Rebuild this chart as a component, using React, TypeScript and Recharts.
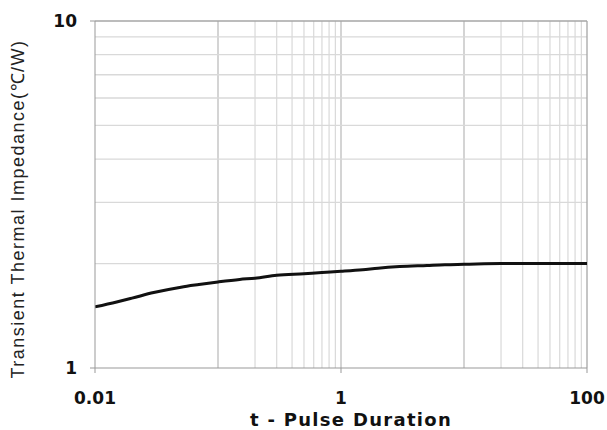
import React from "react";
import {
  LineChart,
  Line,
  XAxis,
  YAxis,
  ReferenceLine,
  Label,
} from "recharts";

// pulse duration t (s) and transient thermal impedance (°C/W)
const pulseTimes = [
  0.01, 0.015, 0.02, 0.03, 0.05, 0.07, 0.1, 0.15, 0.2, 0.3, 0.5, 0.7, 1, 1.5,
  2, 3, 5, 7, 10, 20, 30, 50, 100,
];
const impedance = [
  1.5, 1.55, 1.59, 1.65, 1.71, 1.74, 1.77, 1.8, 1.815, 1.85, 1.87, 1.885, 1.9,
  1.92, 1.94, 1.96, 1.975, 1.985, 1.99, 2.0, 2.0, 2.0, 2.0,
];

const xTicks = [0.01, 1, 100];
const yTicks = [1, 10];

// grid as drawn in the original (minor lines only in some decades)
const xGridMajor = [0.1, 1, 10];
const xGridMinor = [
  0.2, 0.3, 0.4, 0.5, 0.6, 0.7, 0.8, 0.9, 20, 30, 40, 50, 60, 70, 80, 90,
];
const yGridMinor = [2, 3, 4, 5, 6, 7, 8, 9];

const data = pulseTimes.map((t, i) => ({ t, z: impedance[i] }));

const tickStyle = {
  fill: "#111",
  fontSize: 17,
  fontWeight: "bold" as const,
  fontFamily: "DejaVu Sans",
};

export default function App() {
  return (
    <div style={{ position: "absolute", left: 0, top: 0, background: "#fff" }}>
      <LineChart
        width={607}
        height={430}
        data={data}
        margin={{ top: 21, right: 20, bottom: 32, left: 35 }}
      >
        {xGridMinor.map((v) => (
          <ReferenceLine key={"xm" + v} x={v} stroke="#d9d9d9" strokeWidth={1.2} />
        ))}
        {xGridMajor.map((v) => (
          <ReferenceLine key={"xM" + v} x={v} stroke="#bdbdbd" strokeWidth={1.3} />
        ))}
        {yGridMinor.map((v) => (
          <ReferenceLine key={"ym" + v} y={v} stroke="#d9d9d9" strokeWidth={1.3} />
        ))}
        <ReferenceLine y={10} stroke="#a6a6a6" strokeWidth={1.3} />
        <ReferenceLine x={100} stroke="#a6a6a6" strokeWidth={1.3} />
        <XAxis
          dataKey="t"
          type="number"
          scale="log"
          domain={[0.01, 100]}
          ticks={xTicks}
          allowDataOverflow
          stroke="#999"
          tickSize={5}
          tickMargin={19}
          tick={tickStyle}
          height={30}
        >
          <Label
            position="bottom"
            offset={14}
            content={() => (
              <text
                x={351}
                y={426}
                textAnchor="middle"
                fill="#111"
                fontSize={18}
                fontWeight="bold"
                fontFamily="DejaVu Sans"
                letterSpacing={1.3}
              >
                t - Pulse Duration
              </text>
            )}
          />
        </XAxis>
        <YAxis
          type="number"
          scale="log"
          domain={[1, 10]}
          ticks={yTicks}
          allowDataOverflow
          stroke="#999"
          tickSize={5}
          tickMargin={13}
          tick={tickStyle}
          width={60}
        >
          <Label
            position="left"
            content={() => (
              <text
                x={18}
                y={209}
                transform="rotate(-90 18 209)"
                textAnchor="middle"
                dominantBaseline="central"
                fill="#222"
                fontSize={18}
                fontFamily="Liberation Sans"
                letterSpacing={1.5}
              >
                Transient Thermal Impedance(℃/W)
              </text>
            )}
          />
        </YAxis>
        <Line
          type="monotone"
          dataKey="z"
          stroke="#111"
          strokeWidth={3}
          dot={false}
          activeDot={false}
          isAnimationActive={false}
        />
      </LineChart>
    </div>
  );
}
